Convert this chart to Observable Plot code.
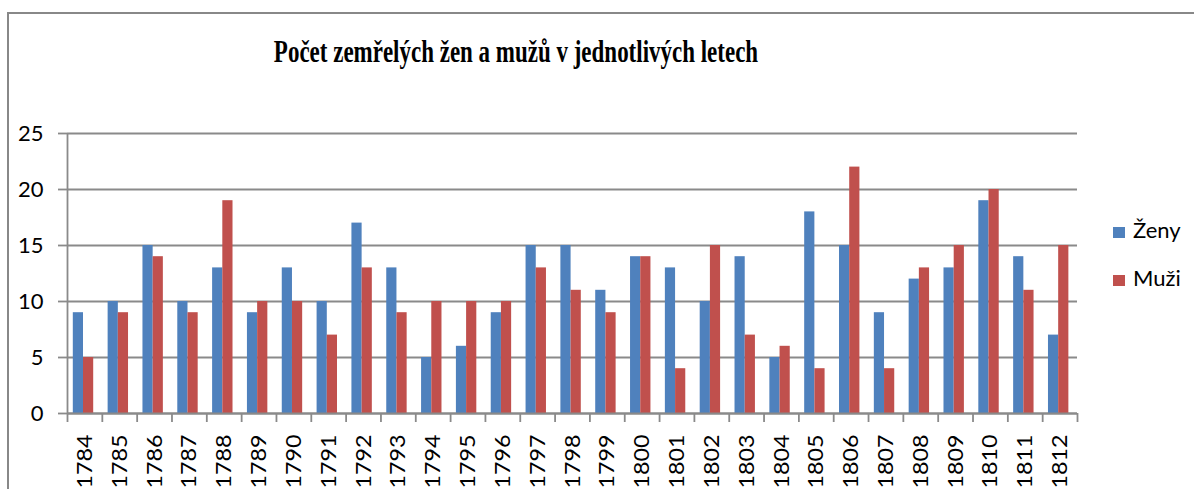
<!DOCTYPE html>
<html><head><meta charset="utf-8">
<script src="https://cdn.jsdelivr.net/npm/d3@7"></script>
<script src="https://cdn.jsdelivr.net/npm/@observablehq/plot@0.6"></script>
<style>
body{margin:0;background:#fff;}
#wrap{position:relative;width:1194px;height:489px;overflow:hidden;background:#fff;font-family:Lato,sans-serif;}
#border{position:absolute;left:7px;top:12px;width:1300px;height:600px;border-left:2px solid #888;border-top:2px solid #888;box-sizing:border-box;}
#chart{position:absolute;left:0;top:0;}
#title{position:absolute;top:35px;left:516px;font-family:"Liberation Serif",serif;font-weight:bold;font-size:32px;line-height:32px;white-space:nowrap;color:#000;transform:translateX(-50%) scaleX(0.718);}
.sw{position:absolute;width:12px;height:11px;}
.lt{position:absolute;font-family:Lato,sans-serif;font-size:22px;line-height:22px;color:#000;white-space:nowrap;}
</style></head>
<body>
<div id="wrap">
  <div id="border"></div>
  <div id="chart"></div>
  <div id="title"></div>
  <div id="legend"></div>
</div>
<script>
const titleText = "Počet zemřelých žen a mužů v jednotlivých letech";
const years = ["1784","1785","1786","1787","1788","1789","1790","1791","1792","1793","1794","1795","1796","1797","1798","1799","1800","1801","1802","1803","1804","1805","1806","1807","1808","1809","1810","1811","1812"];
const zeny = [9,10,15,10,13,9,13,10,17,13,5,6,9,15,15,11,14,13,10,14,5,18,15,9,12,13,19,14,7];
const muzi = [5,9,14,9,19,10,10,7,13,9,10,10,10,13,11,9,14,4,15,7,6,4,22,4,13,15,20,11,15];
const series = ["Ženy","Muži"];
const colors = ["#4F81BD","#C0504D"];
const yTicks = [0,5,10,15,20,25];

const W = 1194, H = 489, ml = 67, mr = 117, mt = 133, mb = 76;
const step = (W - ml - mr) / years.length;
const gray = "#8a8a8a";
const sw = 1.8;

const data = years.flatMap((y, i) => [
  {year: y, series: series[0], value: zeny[i]},
  {year: y, series: series[1], value: muzi[i]}
]);

const chart = Plot.plot({
  width: W, height: H,
  marginLeft: ml, marginRight: mr, marginTop: mt, marginBottom: mb,
  style: {background: "transparent", fontFamily: "Lato, sans-serif", fontSize: "22px", color: "#000", overflow: "visible"},
  x: {type: "band", domain: years, padding: 0, round: false, label: null},
  y: {domain: [0, 25], label: null},
  marks: [
    Plot.gridY(yTicks, {stroke: gray, strokeOpacity: 1, strokeWidth: sw}),
    Plot.axisY(yTicks, {tickSize: 9, tickPadding: 15, stroke: gray, strokeWidth: sw, fill: "#000", fontSize: 22, label: null}),
    Plot.ruleX([years[0]], {dx: -step / 2, stroke: gray, strokeWidth: sw}),
    Plot.barY(data.filter(d => d.series === series[0]), {x: "year", y: "value", fill: colors[0], insetLeft: 5.8, insetRight: step - 16}),
    Plot.barY(data.filter(d => d.series === series[1]), {x: "year", y: "value", fill: colors[1], insetLeft: 16, insetRight: step - 26.2}),
    Plot.ruleY([0], {stroke: gray, strokeWidth: sw}),
    Plot.axisX(years, {tickSize: 9, tickFormat: () => "", dx: -step / 2, stroke: gray, strokeWidth: sw, label: null}),
    Plot.axisX([years[years.length - 1]], {tickSize: 9, tickFormat: () => "", dx: step / 2, stroke: gray, strokeWidth: sw, label: null}),
    Plot.axisX(years, {tickSize: 0, tickPadding: 21, tickRotate: -90, fontSize: 22, fill: "#000", label: null})
  ]
});
document.getElementById("chart").appendChild(chart);

d3.select(chart).selectAll('g[aria-label="x-axis tick label"] text').each(function() {
  const t = this.getAttribute("transform");
  if (t && t.includes("rotate")) this.setAttribute("transform", t + " scale(1.06,1)");
});

document.getElementById("title").textContent = titleText;

const legend = document.getElementById("legend");
const legendTops = [227, 275];
series.forEach((s, i) => {
  const sq = document.createElement("div");
  sq.className = "sw";
  sq.style.left = "1113px";
  sq.style.top = legendTops[i] + "px";
  sq.style.background = colors[i];
  legend.appendChild(sq);
  const t = document.createElement("div");
  t.className = "lt";
  t.style.left = "1133px";
  t.style.top = (legendTops[i] - 8.5) + "px";
  t.textContent = s;
  legend.appendChild(t);
});
</script>
</body></html>
